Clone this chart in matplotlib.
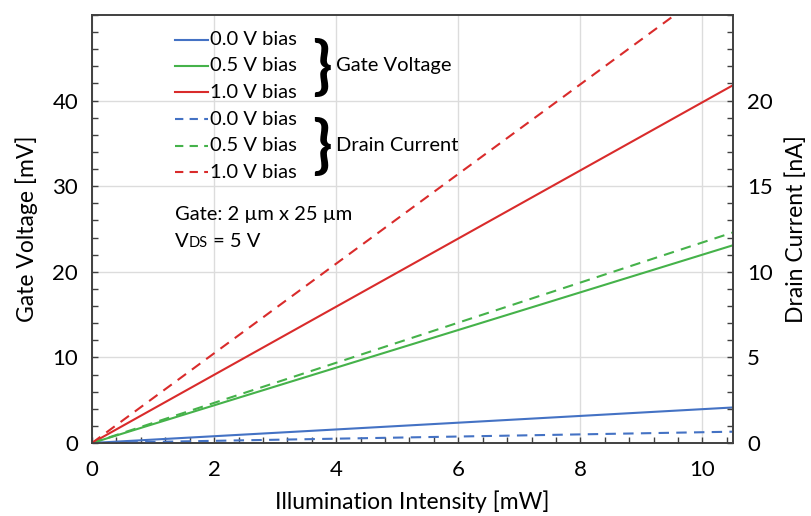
import matplotlib
matplotlib.use("Agg")
import matplotlib.pyplot as plt
from matplotlib.ticker import MultipleLocator, FixedLocator

plt.rcParams['font.family'] = ['Lato', 'DejaVu Sans']

# Data
intensity = [0, 10.5]                 # mW
gate_0v0 = [0, 4.15]                  # mV
gate_0v5 = [0, 23.1]
gate_1v0 = [0, 41.8]
drain_0v0 = [0, 0.66]                 # nA
drain_0v5 = [0, 12.3]
drain_1v0 = [0, 27.5]

bias_labels = ["0.0 V bias", "0.5 V bias", "1.0 V bias"]
x_ticks = [0, 2, 4, 6, 8, 10]
gate_ticks = [0, 10, 20, 30, 40]
drain_ticks = [0, 5, 10, 15, 20]
colors = ["#4472C4", "#45B24A", "#D92B2B"]

fig = plt.figure(figsize=(8.12, 5.16), dpi=100)
ax = fig.add_axes([0.1133, 0.1415, 0.7894, 0.8294])
ax2 = ax.twinx()

for y, c in zip([gate_0v0, gate_0v5, gate_1v0], colors):
    ax.plot(intensity, y, color=c, lw=1.5, solid_capstyle='butt')
for y, c in zip([drain_0v0, drain_0v5, drain_1v0], colors):
    ax2.plot(intensity, y, color=c, lw=1.5, dashes=(5, 3.5))

ax.set_xlim(0, 10.5)
ax.set_ylim(0, 50)
ax2.set_ylim(0, 25)

ax.xaxis.set_major_locator(FixedLocator(x_ticks))
ax.xaxis.set_minor_locator(MultipleLocator(0.4))
ax.yaxis.set_major_locator(FixedLocator(gate_ticks))
ax.yaxis.set_minor_locator(MultipleLocator(2))
ax2.yaxis.set_major_locator(FixedLocator(drain_ticks))
ax2.yaxis.set_minor_locator(MultipleLocator(1))

ax.grid(True, which='major', color='#dcdcdc', lw=1.0)
ax.set_axisbelow(True)

for a in (ax, ax2):
    a.tick_params(which='both', direction='in', length=4, width=1, labelsize=16, color='#404040')
    for s in a.spines.values():
        s.set_color('#404040')
        s.set_linewidth(1.2)
ax.tick_params(axis='y', pad=10)
ax.tick_params(axis='x', pad=12)
ax2.tick_params(axis='y', pad=10)
ax.tick_params(top=False, right=False, which='both')

ax.set_xlabel("Illumination Intensity [mW]", fontsize=16.5, labelpad=8)
ax.set_ylabel("Gate Voltage [mV]", fontsize=16.5, labelpad=10)
ax2.set_ylabel("Drain Current [nA]", fontsize=16.5, labelpad=9)

# Custom legend
rows = [0.942, 0.881, 0.819, 0.757, 0.695, 0.633]
for i in range(6):
    c = colors[i % 3]
    yy = rows[i]
    if i < 3:
        ax.plot([0.129, 0.181], [yy, yy], transform=ax.transAxes, color=c, lw=1.5, clip_on=False)
    else:
        ax.plot([0.129, 0.181], [yy, yy], transform=ax.transAxes, color=c, lw=1.5, dashes=(4, 3), clip_on=False)
    ax.text(0.184, yy, bias_labels[i % 3], transform=ax.transAxes, fontsize=14.5, va='center', ha='left')

ax.text(0.358, 0.878, "}", transform=ax.transAxes, fontsize=46, va='center', ha='center', fontweight='bold')
ax.text(0.358, 0.692, "}", transform=ax.transAxes, fontsize=46, va='center', ha='center', fontweight='bold')
ax.text(0.380, 0.881, "Gate Voltage", transform=ax.transAxes, fontsize=14.5, va='center', ha='left')
ax.text(0.380, 0.695, "Drain Current", transform=ax.transAxes, fontsize=14.5, va='center', ha='left')

ax.text(0.129, 0.535, "Gate: 2 µm x 25 µm", transform=ax.transAxes, fontsize=14.5, va='center', ha='left')
tv = ax.text(0.129, 0.458, "V", transform=ax.transAxes, fontsize=14.5, va='baseline', ha='left')
t1 = ax.annotate("DS", xy=(1.0, 0.0), xycoords=tv, xytext=(0.3, 0), textcoords='offset points',
                 va='bottom', ha='left', fontsize=10.5)
ax.annotate(" = 5 V", xy=(1.0, 0.0), xycoords=t1, va='bottom', ha='left', fontsize=14.5)

fig.savefig("out.png", dpi=100)
